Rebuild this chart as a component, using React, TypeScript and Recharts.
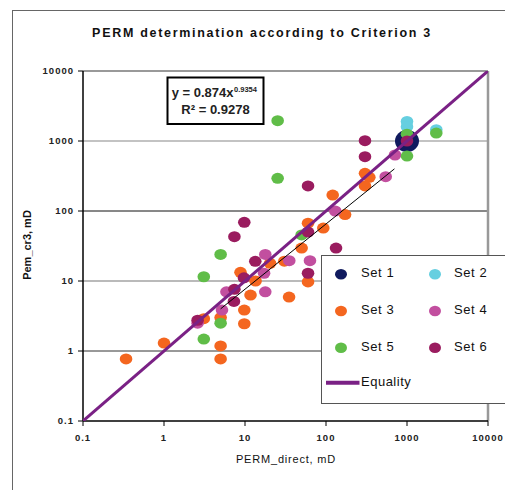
import React from 'react';
import { ScatterChart, Scatter, XAxis, YAxis, ReferenceLine, Legend } from 'recharts';

const FONT = '"Liberation Sans", Arial, Helvetica, sans-serif';

const axisTicks = [0.1, 1, 10, 100, 1000, 10000];
const tickLabels = ['0.1', '1', '10', '100', '1000', '10000'];

const seriesNames = ['Set 1', 'Set 2', 'Set 3', 'Set 4', 'Set 5', 'Set 6'];
const seriesColors = ['#101a5e', '#66cfe0', '#f4661f', '#c24f9f', '#60bd48', '#9a1c5f'];
const equalityName = 'Equality';
const equalityColor = '#7a2185';

const set1X = [1000];
const set1Y = [1000];

const set2X = [1000, 1000, 2300];
const set2Y = [1900, 1600, 1450];

const set3X = [0.34, 1.0, 3.1, 5.0, 5.0, 5.0, 9.8, 9.8, 8.8, 13.5, 11.7, 20.4, 30.6, 35, 60, 50, 60, 92.6, 121, 172, 303, 343, 303];
const set3Y = [0.77, 1.3, 2.9, 3.0, 1.18, 0.77, 3.85, 2.45, 13.3, 10, 6.3, 17.9, 19.2, 5.9, 9.7, 29.5, 67, 57, 169, 89, 346, 303, 228];

const set4X = [2.6, 5.2, 5.9, 17.2, 17.8, 17.8, 35.2, 63.4, 130, 546, 711];
const set4Y = [2.5, 3.85, 7.0, 12.9, 7.0, 24, 19.5, 19.5, 100, 309, 631];

const set5X = [25.3, 25.3, 5.0, 3.1, 5.0, 3.1, 50, 2300, 1000, 1000];
const set5Y = [1950, 293, 24, 11.5, 2.5, 1.48, 45.5, 1300, 1250, 610];

const set6X = [2.6, 7.3, 7.4, 9.7, 13.4, 7.4, 9.8, 60, 60, 60, 133, 303, 303, 1000];
const set6Y = [2.75, 5.1, 7.6, 11.1, 19.1, 43, 69, 12.9, 50, 228, 29.5, 1010, 597, 1000];

const equalityX = [0.1, 10000];
const equalityY = [0.1, 10000];

const trendX = [5, 700];
const trendY = [4.0, 400];

const toPoints = (xs: number[], ys: number[]) => xs.map((x, i) => ({ x, y: ys[i] }));

const setData = [
  toPoints(set1X, set1Y),
  toPoints(set2X, set2Y),
  toPoints(set3X, set3Y),
  toPoints(set4X, set4Y),
  toPoints(set5X, set5Y),
  toPoints(set6X, set6Y),
];

const dotShape = (color: string, rx: number, ry: number) => (props: any) => {
  if (props.cx == null || props.cy == null) return <g />;
  return <ellipse cx={props.cx} cy={props.cy} rx={rx} ry={ry} fill={color} />;
};

const noShape = () => <g />;

const XTick = (props: any) => {
  const { x, y, payload, index } = props;
  return (
    <text x={x} y={y} dy="0.71em" textAnchor="middle" fontFamily={FONT} fontSize={9.5} fontWeight="bold" fill="#222" letterSpacing={1}>
      {tickLabels[axisTicks.indexOf(payload.value)] ?? tickLabels[index]}
    </text>
  );
};

const YTick = (props: any) => {
  const { x, y, payload, index } = props;
  return (
    <text x={x} y={y} dy="0.355em" textAnchor="end" fontFamily={FONT} fontSize={9.5} fontWeight="bold" fill="#222" letterSpacing={1}>
      {tickLabels[axisTicks.indexOf(payload.value)] ?? tickLabels[index]}
    </text>
  );
};

const LegendBox = () => {
  const colX = [20, 114];
  const textX = [40, 133];
  const rowY = [19.3, 56, 92.7];
  return (
    <div style={{ width: 200, height: 149, background: '#fff', border: '1px solid #555', boxSizing: 'border-box' }}>
      <svg width={200} height={149} style={{ display: 'block', marginLeft: -1, marginTop: -1 }}>
        {seriesNames.map((name, i) => {
          const col = i % 2;
          const row = Math.floor(i / 2);
          return (
            <g key={name}>
              <ellipse cx={colX[col]} cy={rowY[row]} rx={6} ry={5.3} fill={seriesColors[i]} />
              <text x={textX[col]} y={rowY[row] + 2.8} fontFamily={FONT} fontSize={13} fill="#111" letterSpacing={0.6}>
                {name}
              </text>
            </g>
          );
        })}
        <line x1={5} x2={38.5} y1={127.7} y2={127.7} stroke={equalityColor} strokeWidth={4} />
        <text x={40} y={130.8} fontFamily={FONT} fontSize={13} fill="#111" letterSpacing={0.5}>
          {equalityName}
        </text>
      </svg>
    </div>
  );
};

export default function App() {
  return (
    <div style={{ position: 'absolute', left: 0, top: 0, width: 505, height: 490, overflow: 'hidden', background: '#fff' }}>
      <div style={{ position: 'absolute', left: 12, top: 10, width: 700, height: 700, borderLeft: '1px solid #666', borderTop: '1px solid #666' }} />
      <div style={{ position: 'absolute', left: 0, top: 0 }}>
        <ScatterChart width={505} height={490} margin={{ top: 71, right: 17, bottom: 29, left: 23 }}>
          <XAxis
            dataKey="x"
            type="number"
            scale="log"
            domain={[0.1, 10000]}
            ticks={axisTicks}
            allowDataOverflow
            height={40}
            tickSize={5}
            tickMargin={8}
            axisLine={{ stroke: '#000', strokeWidth: 1.5 }}
            tickLine={{ stroke: '#000' }}
            tick={<XTick />}
            interval={0}
          />
          <YAxis
            dataKey="y"
            type="number"
            scale="log"
            domain={[0.1, 10000]}
            ticks={axisTicks}
            allowDataOverflow
            width={60}
            tickSize={5}
            tickMargin={4}
            axisLine={{ stroke: '#000', strokeWidth: 1.5 }}
            tickLine={{ stroke: '#000' }}
            tick={<YTick />}
            interval={0}
          />
          <ReferenceLine y={1000} stroke="#888" strokeWidth={1.2} />
          <ReferenceLine y={100} stroke="#111" strokeWidth={1} />
          <ReferenceLine y={10} stroke="#777" strokeWidth={1.2} />
          <ReferenceLine y={1} stroke="#333" strokeWidth={1} />
          <ReferenceLine y={10000} stroke="#999" strokeWidth={2} />
          <ReferenceLine x={10000} stroke="#999" strokeWidth={2.5} />
          {setData.map((data, i) => (
            <Scatter
              key={seriesNames[i]}
              name={seriesNames[i]}
              data={data}
              fill={seriesColors[i]}
              isAnimationActive={false}
              shape={i === 0 ? dotShape(seriesColors[i], 12, 11) : dotShape(seriesColors[i], 6.3, 5.5)}
            />
          ))}
          <Scatter
            name={equalityName}
            data={toPoints(equalityX, equalityY)}
            line={{ stroke: equalityColor, strokeWidth: 3 }}
            shape={noShape}
            fill={equalityColor}
            isAnimationActive={false}
          />
          <Scatter
            name="Trend"
            data={toPoints(trendX, trendY)}
            line={{ stroke: '#000', strokeWidth: 1 }}
            shape={noShape}
            fill="#000"
            legendType="none"
            isAnimationActive={false}
          />
          <Legend
            layout="vertical"
            align="center"
            verticalAlign="middle"
            wrapperStyle={{ left: 321, top: 255, width: 200, height: 149 }}
            content={() => <LegendBox />}
          />
        </ScatterChart>
      </div>
      <svg width={505} height={490} style={{ position: 'absolute', left: 0, top: 0, pointerEvents: 'none' }}>
        <text x={262} y={37.3} textAnchor="middle" fontFamily={FONT} fontSize={12.5} fontWeight="bold" fill="#111" letterSpacing={1.7}>
          PERM determination according to Criterion 3
        </text>
        <text transform="translate(30.5,245) rotate(-90)" textAnchor="middle" fontFamily={FONT} fontSize={11} fontWeight="bold" fill="#111">
          Pem_cr3, mD
        </text>
        <text x={286} y={463} textAnchor="middle" fontFamily={FONT} fontSize={11} fill="#111" letterSpacing={0.8}>
          PERM_direct, mD
        </text>
        <rect x={167.5} y={77.5} width={96} height={46.5} fill="#fff" stroke="#000" strokeWidth={2} />
        <text x={171.7} y={96.7} fontFamily={FONT} fontSize={13} fontWeight="bold" fill="#222">
          y = 0.874x
        </text>
        <text x={234} y={91.5} fontFamily={FONT} fontSize={7.5} fontWeight="bold" fill="#222">
          0.9354
        </text>
        <text x={215.5} y={114} textAnchor="middle" fontFamily={FONT} fontSize={13} fontWeight="bold" fill="#222">
          R² = 0.9278
        </text>
      </svg>
    </div>
  );
}
